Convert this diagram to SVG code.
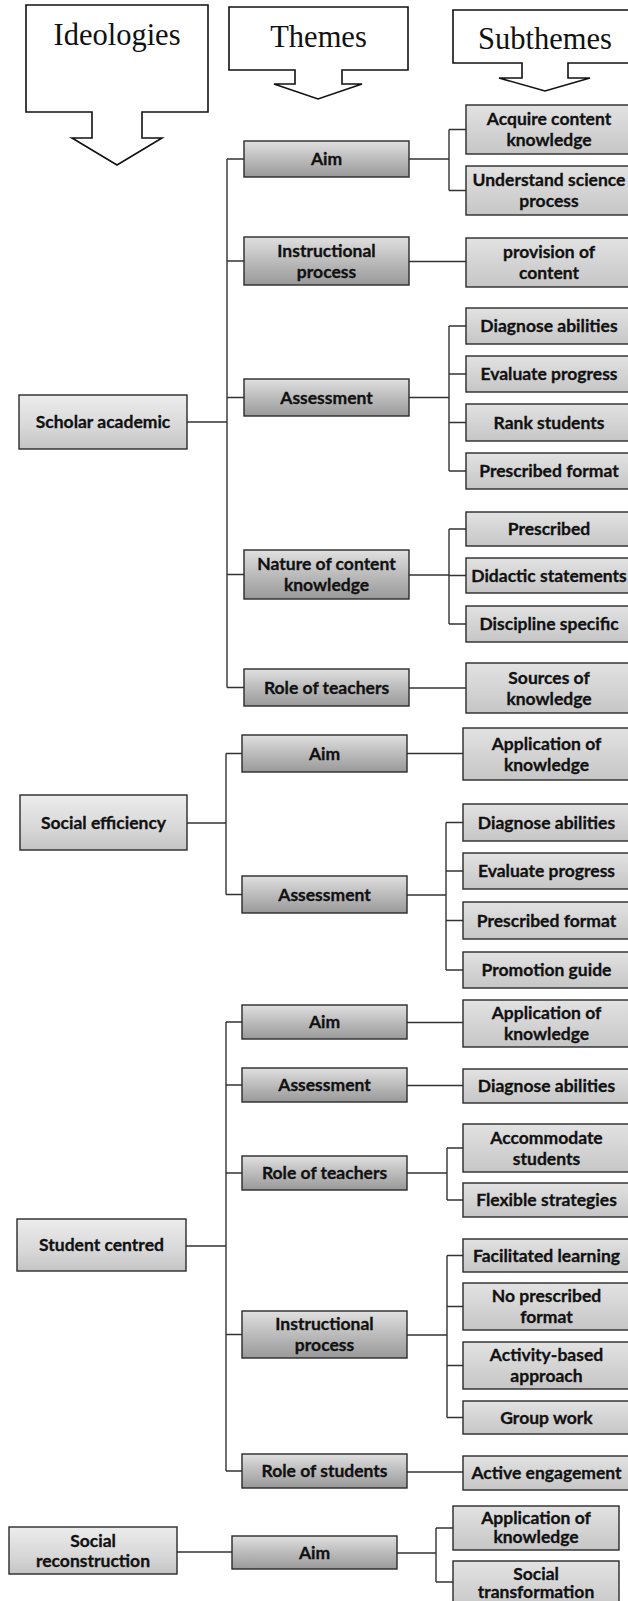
<svg xmlns="http://www.w3.org/2000/svg" width="628" height="1601" viewBox="0 0 628 1601">
<defs>
<linearGradient id="gIdeo" x1="0" y1="0" x2="0" y2="1">
<stop offset="0" stop-color="#ececec"/><stop offset="0.6" stop-color="#d8d8d8"/><stop offset="1" stop-color="#c4c4c4"/>
</linearGradient>
<linearGradient id="gTheme" x1="0" y1="0" x2="0" y2="1">
<stop offset="0" stop-color="#e0e0e0"/><stop offset="0.45" stop-color="#bfbfbf"/><stop offset="1" stop-color="#999"/>
</linearGradient>
<linearGradient id="gSub" x1="0" y1="0" x2="0" y2="1">
<stop offset="0" stop-color="#e2e2e2"/><stop offset="1" stop-color="#c6c6c6"/>
</linearGradient>
</defs>
<style>
.call{fill:#fff;stroke:#111;stroke-width:1.6;stroke-linejoin:miter}
.htxt{font-family:"Liberation Serif","Times New Roman",serif;font-size:30.5px;fill:#111;text-anchor:middle}
.ideo{fill:url(#gIdeo);stroke:#2a2a2a;stroke-width:1.4}
.theme{fill:url(#gTheme);stroke:#2a2a2a;stroke-width:1.4}
.sub{fill:url(#gSub);stroke:#2a2a2a;stroke-width:1.4}
.t{font-family:Lato,"Open Sans","Liberation Sans",sans-serif;font-weight:bold;font-size:17.5px;fill:#111;stroke:#111;stroke-width:0.3;text-anchor:middle}
#connectors path{fill:none;stroke:#333;stroke-width:1.4}
</style>
<rect width="628" height="1601" fill="#fff"/>

<g id="header-ideologies">
<path class="call" d="M26,5 H208 V112 H142 V138 H162 L117,165 L72,138 H92 V112 H26 Z"/>
<text class="htxt" x="117" y="45">Ideologies</text>
</g>
<g id="header-themes">
<path class="call" d="M229,7 H408 V70 H342 V84 H362 L318,99 L274,84 H295 V70 H229 Z"/>
<text class="htxt" x="318.5" y="47">Themes</text>
</g>
<g id="header-subthemes">
<path class="call" d="M453,10 H640 V63 H568 V78 H590 L545,91 L499,78 H522 V63 H453 Z"/>
<text class="htxt" x="545" y="49">Subthemes</text>
</g>

<g id="connectors">
<path d="M187,422 H227 M227,159 V687.5 M227,159 H244 M227,261 H244 M227,397.5 H244 M227,574.5 H244 M227,687.5 H244"/>
<path d="M409,159 H449 M449,129.5 V190.5 M449,129.5 H466 M449,190.5 H466"/>
<path d="M409,261.5 H466"/>
<path d="M409,397.5 H449 M449,326 V471 M449,326 H466 M449,374 H466 M449,422.5 H466 M449,471 H466"/>
<path d="M409,575 H449 M449,529 V624 M449,529 H466 M449,575.5 H466 M449,624 H466"/>
<path d="M409,688 H466"/>
<path d="M187,823 H226 M226,753.5 V894.5 M226,753.5 H242 M226,894.5 H242"/>
<path d="M407,753.5 H463"/>
<path d="M407,895 H446 M446,822.5 V970 M446,822.5 H463 M446,871 H463 M446,920.5 H463 M446,970 H463"/>
<path d="M186,1246 H226 M226,1022 V1471 M226,1022 H242 M226,1085 H242 M226,1173 H242 M226,1334.5 H242 M226,1471 H242"/>
<path d="M407,1022.5 H463 M407,1085.5 H463"/>
<path d="M407,1173 H447 M447,1148 V1200 M447,1148 H463 M447,1200 H463"/>
<path d="M407,1335 H447 M447,1255.5 V1417.5 M447,1255.5 H463 M447,1306.5 H463 M447,1365.5 H463 M447,1417.5 H463"/>
<path d="M407,1472 H463"/>
<path d="M177,1552 H232 M397,1553 H436 M436,1528 V1582 M436,1528 H453 M436,1582 H453"/>
</g>

<!-- Scholar academic -->
<g id="ideo-scholar-academic"><rect class="ideo" x="19" y="395" width="168" height="54"/><text class="t" x="103" y="428">Scholar academic</text></g>
<g id="sa-aim"><rect class="theme" x="244" y="141" width="165" height="36"/><text class="t" x="326.5" y="165">Aim</text></g>
<g id="sa-instructional"><rect class="theme" x="244" y="237" width="165" height="48"/><text class="t" x="326.5" y="256.5">Instructional</text><text class="t" x="326.5" y="277.5">process</text></g>
<g id="sa-assessment"><rect class="theme" x="244" y="379" width="165" height="37"/><text class="t" x="326.5" y="403.5">Assessment</text></g>
<g id="sa-nature"><rect class="theme" x="244" y="550" width="165" height="49"/><text class="t" x="326.5" y="570">Nature of content</text><text class="t" x="326.5" y="591">knowledge</text></g>
<g id="sa-role-teachers"><rect class="theme" x="244" y="669" width="165" height="37"/><text class="t" x="326.5" y="693.5">Role of teachers</text></g>

<g id="sa-acquire"><rect class="sub" x="466" y="105" width="166" height="49"/><text class="t" x="549" y="125">Acquire content</text><text class="t" x="549" y="146">knowledge</text></g>
<g id="sa-understand"><rect class="sub" x="466" y="166" width="166" height="49"/><text class="t" x="549" y="186">Understand science</text><text class="t" x="549" y="207">process</text></g>
<g id="sa-provision"><rect class="sub" x="466" y="238" width="166" height="49"/><text class="t" x="549" y="258">provision of</text><text class="t" x="549" y="279">content</text></g>
<g id="sa-diagnose"><rect class="sub" x="466" y="308" width="166" height="36"/><text class="t" x="549" y="332">Diagnose abilities</text></g>
<g id="sa-evaluate"><rect class="sub" x="466" y="356" width="166" height="36"/><text class="t" x="549" y="380">Evaluate progress</text></g>
<g id="sa-rank"><rect class="sub" x="466" y="404" width="166" height="37"/><text class="t" x="549" y="428.5">Rank students</text></g>
<g id="sa-prescribed-format"><rect class="sub" x="466" y="453" width="166" height="36"/><text class="t" x="549" y="477">Prescribed format</text></g>
<g id="sa-prescribed"><rect class="sub" x="466" y="512" width="166" height="34"/><text class="t" x="549" y="535">Prescribed</text></g>
<g id="sa-didactic"><rect class="sub" x="466" y="558" width="166" height="35"/><text class="t" x="549" y="581.5">Didactic statements</text></g>
<g id="sa-discipline"><rect class="sub" x="466" y="606" width="166" height="36"/><text class="t" x="549" y="630">Discipline specific</text></g>
<g id="sa-sources"><rect class="sub" x="466" y="663" width="166" height="50"/><text class="t" x="549" y="683.5">Sources of</text><text class="t" x="549" y="704.5">knowledge</text></g>

<!-- Social efficiency -->
<g id="ideo-social-efficiency"><rect class="ideo" x="20" y="795" width="167" height="55"/><text class="t" x="103.5" y="828.5">Social efficiency</text></g>
<g id="se-aim"><rect class="theme" x="242" y="735" width="165" height="37"/><text class="t" x="324.5" y="759.5">Aim</text></g>
<g id="se-assessment"><rect class="theme" x="242" y="876" width="165" height="37"/><text class="t" x="324.5" y="900.5">Assessment</text></g>
<g id="se-application"><rect class="sub" x="463" y="728" width="167" height="52"/><text class="t" x="546.5" y="749.5">Application of</text><text class="t" x="546.5" y="770.5">knowledge</text></g>
<g id="se-diagnose"><rect class="sub" x="463" y="804" width="167" height="37"/><text class="t" x="546.5" y="828.5">Diagnose abilities</text></g>
<g id="se-evaluate"><rect class="sub" x="463" y="853" width="167" height="36"/><text class="t" x="546.5" y="877">Evaluate progress</text></g>
<g id="se-prescribed-format"><rect class="sub" x="463" y="902" width="167" height="37"/><text class="t" x="546.5" y="926.5">Prescribed format</text></g>
<g id="se-promotion"><rect class="sub" x="463" y="952" width="167" height="36"/><text class="t" x="546.5" y="976">Promotion guide</text></g>

<!-- Student centred -->
<g id="ideo-student-centred"><rect class="ideo" x="17" y="1219" width="169" height="52"/><text class="t" x="101.5" y="1251">Student centred</text></g>
<g id="sc-aim"><rect class="theme" x="242" y="1005" width="165" height="34"/><text class="t" x="324.5" y="1028">Aim</text></g>
<g id="sc-assessment"><rect class="theme" x="242" y="1068" width="165" height="34"/><text class="t" x="324.5" y="1091">Assessment</text></g>
<g id="sc-role-teachers"><rect class="theme" x="242" y="1156" width="165" height="34"/><text class="t" x="324.5" y="1179">Role of teachers</text></g>
<g id="sc-instructional"><rect class="theme" x="242" y="1311" width="165" height="47"/><text class="t" x="324.5" y="1330">Instructional</text><text class="t" x="324.5" y="1351">process</text></g>
<g id="sc-role-students"><rect class="theme" x="242" y="1454" width="165" height="34"/><text class="t" x="324.5" y="1477">Role of students</text></g>
<g id="sc-application"><rect class="sub" x="463" y="1000" width="167" height="47"/><text class="t" x="546.5" y="1019">Application of</text><text class="t" x="546.5" y="1040">knowledge</text></g>
<g id="sc-diagnose"><rect class="sub" x="463" y="1069" width="167" height="34"/><text class="t" x="546.5" y="1092">Diagnose abilities</text></g>
<g id="sc-accommodate"><rect class="sub" x="463" y="1124" width="167" height="48"/><text class="t" x="546.5" y="1143.5">Accommodate</text><text class="t" x="546.5" y="1164.5">students</text></g>
<g id="sc-flexible"><rect class="sub" x="463" y="1183" width="167" height="34"/><text class="t" x="546.5" y="1206">Flexible strategies</text></g>
<g id="sc-facilitated"><rect class="sub" x="463" y="1239" width="167" height="33"/><text class="t" x="546.5" y="1261.5">Facilitated learning</text></g>
<g id="sc-no-prescribed"><rect class="sub" x="463" y="1283" width="167" height="47"/><text class="t" x="546.5" y="1302">No prescribed</text><text class="t" x="546.5" y="1323">format</text></g>
<g id="sc-activity"><rect class="sub" x="463" y="1342" width="167" height="47"/><text class="t" x="546.5" y="1361">Activity-based</text><text class="t" x="546.5" y="1382">approach</text></g>
<g id="sc-group"><rect class="sub" x="463" y="1401" width="167" height="33"/><text class="t" x="546.5" y="1423.5">Group work</text></g>
<g id="sc-active"><rect class="sub" x="463" y="1456" width="167" height="34"/><text class="t" x="546.5" y="1479">Active engagement</text></g>

<!-- Social reconstruction -->
<g id="ideo-social-reconstruction"><rect class="ideo" x="9" y="1527" width="168" height="47"/><text class="t" x="93" y="1547">Social</text><text class="t" x="93" y="1567">reconstruction</text></g>
<g id="sr-aim"><rect class="theme" x="232" y="1536" width="165" height="33"/><text class="t" x="314.5" y="1558.5">Aim</text></g>
<g id="sr-application"><rect class="sub" x="453" y="1506" width="166" height="44"/><text class="t" x="536" y="1524">Application of</text><text class="t" x="536" y="1543">knowledge</text></g>
<g id="sr-social-transformation"><rect class="sub" x="453" y="1561" width="166" height="50"/><text class="t" x="536" y="1580">Social</text><text class="t" x="536" y="1598">transformation</text></g>
</svg>
